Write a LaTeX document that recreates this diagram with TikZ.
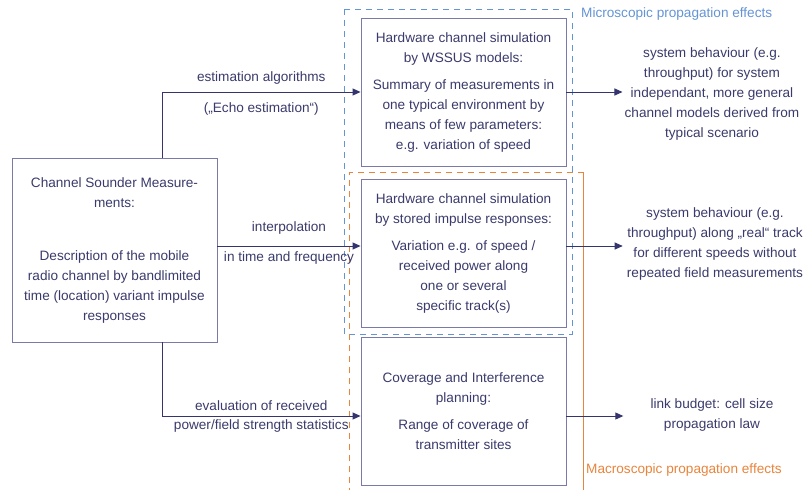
\documentclass[tikz,border=0pt]{standalone}
\usepackage{fontspec}
\setmainfont{Liberation Sans}
\usepackage{tikz}
\usetikzlibrary{arrows.meta, positioning}
\definecolor{textfg}{HTML}{3a3a6c}
\definecolor{boxborder}{HTML}{7a7aa8}
\definecolor{arrowfg}{HTML}{34346e}
\definecolor{microblue}{HTML}{6494d4}
\definecolor{macroorange}{HTML}{e8843c}
\tikzstyle{simbox} = [rectangle, draw=boxborder, text=textfg, line width=0.9pt,
  font=\fontsize{13.6}{20}\selectfont, align=center,
  minimum width=205pt, minimum height=148pt, inner sep=0pt]
\tikzstyle{result} = [text=textfg, font=\fontsize{13.6}{20}\selectfont,
  align=center, inner sep=0pt]
\tikzstyle{lbl} = [text=textfg, font=\fontsize{13.6}{20}\selectfont, inner sep=0pt]
\tikzstyle{arrow} = [-{Triangle[length=8pt,width=7pt]}, color=arrowfg, line width=0.9pt]
\tikzstyle{frame} = [dash pattern=on 6pt off 5pt, line width=0.9pt]

\begin{document}
\begin{tikzpicture}[x=1pt, y=1pt]

  \useasboundingbox (0,0) rectangle (806,-490);

  \node[simbox, minimum height=184pt] (sounder) at (114.5,-250)
    {Channel Sounder Measure-\\ments:\\[33pt]Description of the mobile\\radio channel by bandlimited\\time (location) variant impulse\\responses};

  \node[simbox] (wssus) at (463.5,-92)
    {Hardware channel simulation\\by WSSUS models:\\[7pt]Summary of measurements in\\one typical environment by\\means of few parameters:\\e.g. variation of speed};

  \node[simbox] (stored) at (463.5,-253)
    {Hardware channel simulation\\by stored impulse responses:\\[7pt]Variation e.g. of speed /\\received power along\\one or several\\specific track(s)};

  \node[simbox] (coverage) at (463.5,-411)
    {Coverage and Interference\\planning:\\[7pt]Range of coverage of\\transmitter sites};

  % results on the right
  \node[result] (resmicro) at (712,-94)
    {system behaviour (e.g.\\throughput) for system\\independant, more general\\channel models derived from\\typical scenario};
  \node[result] (resstored) at (715,-244)
    {system behaviour (e.g.\\throughput) along „real“ track\\for different speeds without\\repeated field measurements};
  \node[result] (resbudget) at (712,-415)
    {link budget: cell size\\propagation law};

  % frames
  \draw[frame, draw=microblue] (344,-9) rectangle (572,-334);
  \draw[frame, draw=macroorange] (583.5,-172) -- (349,-172) -- (349,-492);
  \draw[draw=macroorange, line width=1.1pt] (583.5,-172) -- (583.5,-492);
  \node[lbl, text=microblue, anchor=west] (microlbl) at (581,-14) {Microscopic propagation effects};
  \node[lbl, text=macroorange, anchor=west] (macrolbl) at (586,-470) {Macroscopic propagation effects};

  % inputs
  \draw[arrow] ([xshift=47.5pt]sounder.north) |- (wssus.west)
    node[lbl, pos=0.75, above=7pt] {estimation algorithms}
    node[lbl, pos=0.75, below=10pt] {(„Echo estimation“)};
  \draw[arrow] ([yshift=4pt]sounder.east) -- ([yshift=7pt]stored.west)
    node[lbl, midway, above=11pt] {interpolation}
    node[lbl, midway, below=5pt] {in time and frequency};
  \draw[arrow] ([xshift=47.5pt]sounder.south) |- ([yshift=-5pt]coverage.west)
    node[lbl, pos=0.75, above=5pt] {evaluation of received}
    node[lbl, pos=0.75, below=3pt] {power/field strength statistics};

  % outputs
  \draw[arrow] (wssus.east) -- ([xshift=-2pt]wssus.east -| resmicro.west);
  \draw[arrow] ([yshift=7pt]stored.east) -- ([xshift=-4pt,yshift=7pt]stored.east -| resstored.west);
  \draw[arrow] ([yshift=-5pt]coverage.east) -- ([xshift=-27pt,yshift=-5pt]coverage.east -| resbudget.west);

\end{tikzpicture}
\end{document}
